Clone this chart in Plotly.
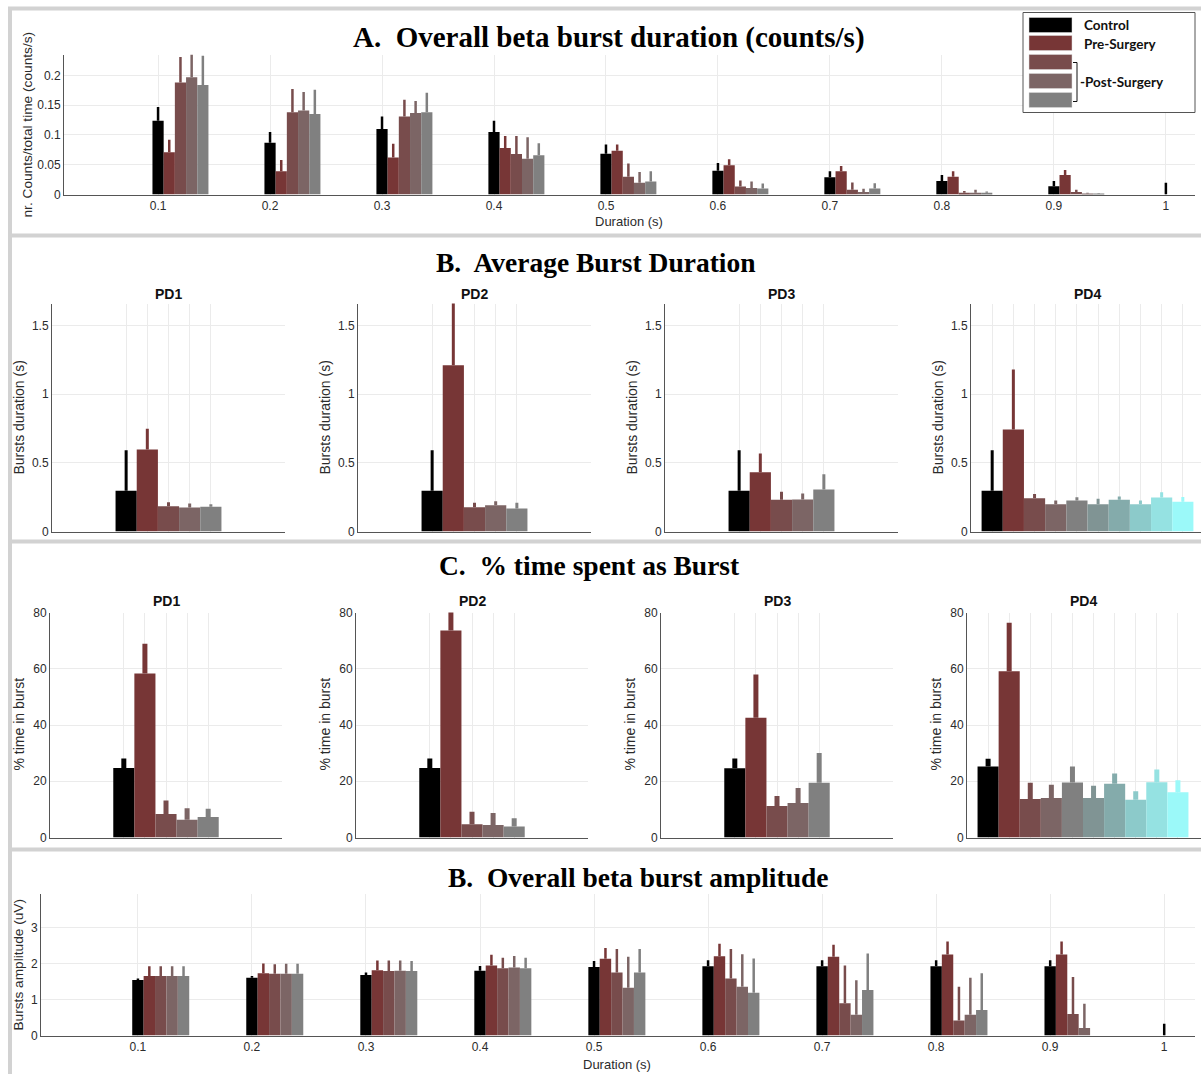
import plotly.graph_objects as go

W = 1201
FIG_H = 1081
# the photographed page maps figure pixel y to picture pixel 0.987*y + 6.5;
# positions below are given in picture pixels and converted back
SCALE_Y = 0.987
OFF_Y = 6.5

# ---------------- data ----------------
durations = [0.1, 0.2, 0.3, 0.4, 0.5, 0.6, 0.7, 0.8, 0.9, 1.0]
duration_labels = ["0.1", "0.2", "0.3", "0.4", "0.5", "0.6", "0.7", "0.8", "0.9", "1"]

group_names = ["Control", "Pre-Surgery", "Post-Surgery 1", "Post-Surgery 2", "Post-Surgery 3"]
colors = ["#000000", "#773636", "#784c4c", "#7c6565", "#808080",
          "#809494", "#84abab", "#8ccaca", "#95e2e2", "#9bf9f9"]

# A. counts/s (mean, upper end of error bar)
cnt_control = [0.124, 0.087, 0.110, 0.105, 0.0685, 0.040, 0.029, 0.0225, 0.014, 0.0]
cnt_control_hi = [0.147, 0.105, 0.131, 0.124, 0.084, 0.053, 0.039, 0.0326, 0.0225, 0.0197]
cnt_pre = [0.071, 0.039, 0.062, 0.078, 0.0736, 0.049, 0.039, 0.030, 0.0326, 0.0]
cnt_pre_hi = [0.092, 0.058, 0.085, 0.098, 0.084, 0.059, 0.048, 0.039, 0.041, 0.0]
cnt_post1 = [0.188, 0.138, 0.131, 0.068, 0.030, 0.0135, 0.008, 0.003, 0.004, 0.0]
cnt_post1_hi = [0.231, 0.177, 0.159, 0.098, 0.052, 0.0236, 0.020, 0.006, 0.008, 0.0]
cnt_post2 = [0.197, 0.141, 0.137, 0.060, 0.0197, 0.011, 0.004, 0.003, 0.0017, 0.0]
cnt_post2_hi = [0.235, 0.172, 0.157, 0.096, 0.0376, 0.022, 0.0096, 0.008, 0.003, 0.0]
cnt_post3 = [0.184, 0.135, 0.138, 0.066, 0.022, 0.010, 0.010, 0.003, 0.001, 0.0]
cnt_post3_hi = [0.233, 0.176, 0.171, 0.086, 0.039, 0.0185, 0.019, 0.005, 0.0015, 0.0]

# D. amplitude (uV)
amp_control = [1.55, 1.61, 1.69, 1.81, 1.91, 1.93, 1.93, 1.93, 1.93, 0.0]
amp_control_hi = [1.59, 1.66, 1.76, 1.94, 2.08, 2.10, 2.10, 2.10, 2.10, 0.33]
amp_pre = [1.66, 1.74, 1.82, 1.95, 2.14, 2.21, 2.20, 2.26, 2.26, 0.0]
amp_pre_hi = [1.93, 2.01, 2.09, 2.25, 2.44, 2.56, 2.53, 2.62, 2.62, 0.0]
amp_post1 = [1.66, 1.72, 1.80, 1.88, 1.76, 1.59, 0.90, 0.42, 0.60, 0.0]
amp_post1_hi = [1.93, 1.99, 2.09, 2.17, 2.41, 2.41, 1.95, 1.36, 1.63, 0.0]
amp_post2 = [1.66, 1.72, 1.81, 1.90, 1.33, 1.36, 0.58, 0.58, 0.21, 0.0]
amp_post2_hi = [1.93, 2.00, 2.09, 2.22, 2.20, 2.27, 1.54, 1.61, 0.89, 0.0]
amp_post3 = [1.66, 1.72, 1.80, 1.88, 1.76, 1.19, 1.27, 0.71, 0.0, 0.0]
amp_post3_hi = [1.93, 2.00, 2.08, 2.17, 2.41, 2.15, 2.29, 1.74, 0.0, 0.0]

# B. average burst duration per patient (mean, upper end)
patients = ["PD1", "PD2", "PD3", "PD4"]
dur_PD1 = [0.296, 0.597, 0.184, 0.175, 0.180]
dur_PD1_hi = [0.592, 0.748, 0.214, 0.204, 0.199]
dur_PD2 = [0.296, 1.211, 0.177, 0.192, 0.167]
dur_PD2_hi = [0.592, 1.75, 0.209, 0.221, 0.209]
dur_PD3 = [0.296, 0.432, 0.231, 0.233, 0.306]
dur_PD3_hi = [0.592, 0.568, 0.289, 0.277, 0.417]
dur_PD4 = [0.296, 0.743, 0.243, 0.199, 0.226, 0.199, 0.231, 0.199, 0.248, 0.216]
dur_PD4_hi = [0.592, 1.18, 0.274, 0.226, 0.250, 0.238, 0.255, 0.226, 0.286, 0.252]

# C. % time spent as burst per patient (mean, upper end)
pct_PD1 = [24.7, 58.3, 8.4, 6.3, 7.3]
pct_PD1_hi = [28.1, 68.9, 13.2, 10.4, 10.2]
pct_PD2 = [24.7, 73.6, 4.7, 4.5, 3.9]
pct_PD2_hi = [28.1, 82.0, 9.2, 8.7, 6.9]
pct_PD3 = [24.6, 42.6, 11.2, 12.3, 19.5]
pct_PD3_hi = [28.1, 58.0, 14.8, 17.6, 30.1]
pct_PD4 = [25.3, 59.1, 13.7, 14.1, 19.6, 14.1, 19.1, 13.4, 19.7, 16.1]
pct_PD4_hi = [28.0, 76.4, 19.5, 18.8, 25.3, 18.4, 22.8, 16.5, 24.2, 20.4]

# ---------------- helpers ----------------
def fx(p):
    return p / W

def fy(p):
    return 1 - ((p - OFF_Y) / SCALE_Y) / FIG_H

TICKFONT = dict(family="Liberation Sans, Arial, sans-serif", size=12, color="#2b2b2b")
GRID = "#ebebeb"
AXLINE = "#555555"

fig = go.Figure()
annotations = []
shapes = []


def note(text, px, py, font, angle=0, xanchor="center"):
    annotations.append(dict(text=text, x=fx(px), y=fy(py), xref="paper", yref="paper",
                            xanchor=xanchor, yanchor="middle", showarrow=False,
                            textangle=angle, font=font))


def add_bar(xref, yref, x, y, hi, color, width, errw):
    fig.add_trace(go.Bar(
        x=x, y=y, width=width,
        marker=dict(color=color, line=dict(width=0)),
        error_y=dict(type="data", symmetric=False,
                     array=[h - v for h, v in zip(hi, y)],
                     arrayminus=[0] * len(y),
                     color=color, thickness=errw, width=0),
        xaxis=xref, yaxis=yref, showlegend=False, hoverinfo="skip",
    ))


# ---------------- panel A ----------------
cnt_means = [cnt_control, cnt_pre, cnt_post1, cnt_post2, cnt_post3]
cnt_his = [cnt_control_hi, cnt_pre_hi, cnt_post1_hi, cnt_post2_hi, cnt_post3_hi]
for k in range(5):
    xs = [d + k * 0.01 for d in durations]
    add_bar("x", "y", xs, cnt_means[k], cnt_his[k], colors[k], 0.01, 2.5)

# ---------------- panel D ----------------
amp_means = [amp_control, amp_pre, amp_post1, amp_post2, amp_post3]
amp_his = [amp_control_hi, amp_pre_hi, amp_post1_hi, amp_post2_hi, amp_post3_hi]
for k in range(5):
    xs = [d + k * 0.01 for d in durations]
    add_bar("x10", "y10", xs, amp_means[k], amp_his[k], colors[k], 0.01, 2.5)

# ---------------- panels B and C ----------------
dur_sets = [(dur_PD1, dur_PD1_hi), (dur_PD2, dur_PD2_hi), (dur_PD3, dur_PD3_hi), (dur_PD4, dur_PD4_hi)]
pct_sets = [(pct_PD1, pct_PD1_hi), (pct_PD2, pct_PD2_hi), (pct_PD3, pct_PD3_hi), (pct_PD4, pct_PD4_hi)]
for i in range(4):
    m, h = dur_sets[i]
    for j in range(len(m)):
        add_bar("x%d" % (i + 2), "y%d" % (i + 2), [j + 1], [m[j]], [h[j]], colors[j], 1.0, 3)
    m, h = pct_sets[i]
    for j in range(len(m)):
        add_bar("x%d" % (i + 6), "y%d" % (i + 6), [j + 1], [m[j]], [h[j]], colors[j], 1.0, 5)

# ---------------- axes ----------------
layout = {}

def xax(domain, rng, tickvals, ticktext=None, showlabels=True):
    d = dict(domain=domain, range=rng, tickvals=tickvals, showgrid=True, gridcolor=GRID,
             gridwidth=1, zeroline=False, showline=True, linecolor=AXLINE, linewidth=1,
             ticks="", tickfont=TICKFONT, showticklabels=showlabels, fixedrange=True)
    if ticktext is not None:
        d["ticktext"] = ticktext
    return d

def yax(domain, rng, tickvals, ticktext, anchor):
    return dict(domain=domain, range=rng, tickvals=tickvals, ticktext=ticktext,
                showgrid=True, gridcolor=GRID, gridwidth=1, zeroline=False,
                showline=True, linecolor=AXLINE, linewidth=1, ticks="",
                tickfont=TICKFONT, anchor=anchor, fixedrange=True)

# A
layout["xaxis"] = xax([fx(64), fx(1195)], [0.016, 1.026], durations, duration_labels)
layout["xaxis"]["anchor"] = "y"
layout["yaxis"] = yax([fy(194), fy(54)], [0, 0.235], [0, 0.05, 0.1, 0.15, 0.2],
                      ["0", "0.05", "0.1", "0.15", "0.2"], "x")

# D
layout["xaxis10"] = xax([fx(41), fx(1195)], [0.015, 1.027], durations, duration_labels)
layout["xaxis10"]["anchor"] = "y10"
layout["yaxis10"] = yax([fy(1035), fy(893)], [0, 3.96], [0, 1, 2, 3], ["0", "1", "2", "3"], "x10")

SUBFONT = dict(family="Liberation Sans, Arial", size=14, color="#111")
AXFONT = dict(family="Liberation Sans, Arial", size=14, color="#2b2b2b")

b_left = [52, 358, 665, 971]
c_left = [50, 356, 661, 967]
for i in range(4):
    n = len(dur_sets[i][0])
    if n == 5:
        rngb = [-2.5, 8.5]
        rngc = [-2.5, 8.5]
        dom_b = [fx(b_left[i]), fx(b_left[i] + 233)]
        dom_c = [fx(c_left[i]), fx(c_left[i] + 232)]
    else:
        dom_b = [fx(b_left[i]), 1.0]
        dom_c = [fx(c_left[i]), 1.0]
        rngb = [0, 11 * (W - b_left[i]) / 233]
        rngc = [0, 11 * (W - c_left[i]) / 232]
    ax = xax(dom_b, rngb, list(range(1, n + 1)), showlabels=False)
    ax["anchor"] = "y%d" % (i + 2)
    layout["xaxis%d" % (i + 2)] = ax
    layout["yaxis%d" % (i + 2)] = yax([fy(531), fy(303)], [0, 1.66], [0, 0.5, 1, 1.5],
                                      ["0", "0.5", "1", "1.5"], "x%d" % (i + 2))
    ax = xax(dom_c, rngc, list(range(1, n + 1)), showlabels=False)
    ax["anchor"] = "y%d" % (i + 6)
    layout["xaxis%d" % (i + 6)] = ax
    layout["yaxis%d" % (i + 6)] = yax([fy(837), fy(612)], [0, 80], [0, 20, 40, 60, 80],
                                      ["0", "20", "40", "60", "80"], "x%d" % (i + 6))

    note("<b>%s</b>" % patients[i], b_left[i] + 116, 293, SUBFONT)
    note("<b>%s</b>" % patients[i], c_left[i] + 116, 600, SUBFONT)
    note("Bursts duration (s)", b_left[i] - 33, 417, AXFONT, angle=-90)
    note("% time in burst", c_left[i] - 31, 724, AXFONT, angle=-90)

LABFONT = dict(family="Liberation Sans, Arial", size=13.7, color="#2b2b2b")
XLABFONT = dict(family="Liberation Sans, Arial", size=13, color="#2b2b2b")
note("nr. Counts/total time (counts/s)", 28, 124, LABFONT, angle=-90)
note("Duration (s)", 629, 221, XLABFONT)
note("Bursts amplitude (uV)", 19, 964, LABFONT, angle=-90)
note("Duration (s)", 617, 1064, XLABFONT)

# panel titles
TFONT = dict(family="Liberation Serif, Times New Roman, serif", size=27.5, color="#000")
TFONT_A = dict(family="Liberation Serif, Times New Roman, serif", size=29, color="#000")
note("<b>A.&nbsp; Overall beta burst duration (counts/s)</b>", 609, 37, TFONT_A)
note("<b>B.&nbsp; Average Burst Duration</b>", 596, 262, TFONT)
note("<b>C.&nbsp; % time spent as Burst</b>", 589, 565, TFONT)
note("<b>B.&nbsp; Overall beta burst amplitude</b>", 638, 877, TFONT)

# ---------------- legend (drawn) ----------------
shapes.append(dict(type="rect", xref="paper", yref="paper", x0=fx(1023), x1=fx(1195),
                   y0=fy(112), y1=fy(12), line=dict(color="#555", width=1), fillcolor="white"))
sw_tops = [17, 35, 54, 73, 92]
for k in range(5):
    shapes.append(dict(type="rect", xref="paper", yref="paper", x0=fx(1029), x1=fx(1072),
                       y0=fy(sw_tops[k] + 15), y1=fy(sw_tops[k]),
                       line=dict(color="#dddddd", width=0.5), fillcolor=colors[k]))
for seg in [((1073, 62), (1077, 62)), ((1077, 62), (1077, 101)), ((1073, 101), (1077, 101))]:
    shapes.append(dict(type="line", xref="paper", yref="paper",
                       x0=fx(seg[0][0]), y0=fy(seg[0][1]), x1=fx(seg[1][0]), y1=fy(seg[1][1]),
                       line=dict(color="#111", width=1)))
LFONT = dict(family="Lato, Open Sans, sans-serif", size=13.5, color="#111")
note("<b>Control</b>", 1082, 24, LFONT, xanchor="left")
note("<b>Pre-Surgery</b>", 1082, 43, LFONT, xanchor="left")
note("<b>-Post-Surgery</b>", 1078, 81, LFONT, xanchor="left")

# ---------------- frame lines ----------------
FRAME = "#d2d2d2"
shapes.append(dict(type="line", xref="paper", yref="paper", x0=fx(10), x1=fx(10), y0=fy(7), y1=0,
                   line=dict(color=FRAME, width=4)))
for yy in [8, 235, 541, 849]:
    shapes.append(dict(type="line", xref="paper", yref="paper", x0=fx(8), x1=1, y0=fy(yy), y1=fy(yy),
                       line=dict(color=FRAME, width=4)))

fig.update_layout(
    width=W, height=FIG_H, margin=dict(l=0, r=0, t=0, b=0),
    paper_bgcolor="white", plot_bgcolor="white",
    barmode="overlay", showlegend=False,
    annotations=annotations, shapes=shapes,
    **layout,
)

CSS_FIX = (
    "var s=document.createElement('style');"
    "s.textContent='html,body{margin:0 !important;padding:0 !important;overflow:hidden;}';"
    "document.head.appendChild(s);"
)
fig.write_html("out.html", config={"displayModeBar": False}, post_script=CSS_FIX)
